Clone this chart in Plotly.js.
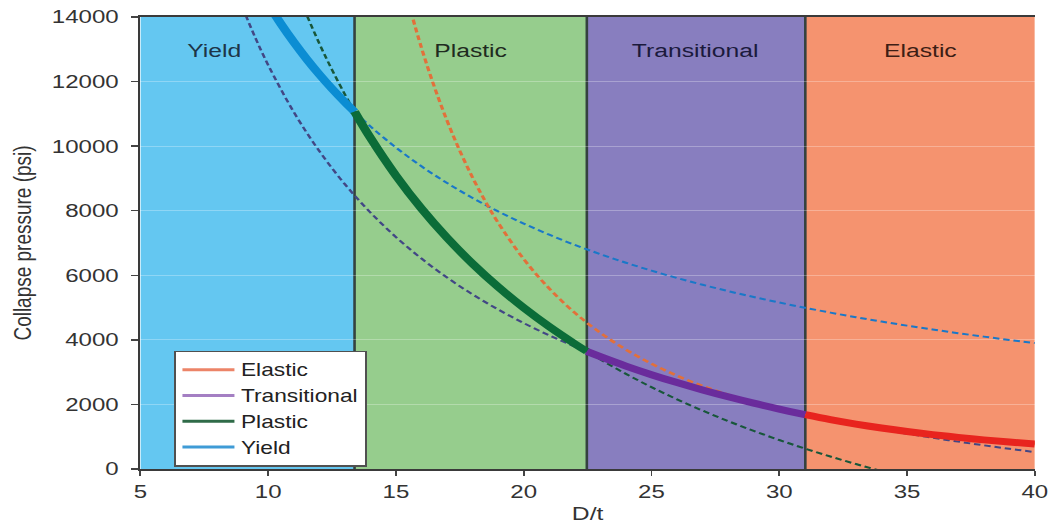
<!DOCTYPE html>
<html>
<head>
<meta charset="utf-8">
<script src="https://cdn.plot.ly/plotly-3.0.1.min.js"></script>
<style>
html,body{margin:0;padding:0;overflow:hidden;background:#fff;}
#chart{width:810px;height:524px;transform:scaleX(1.3);transform-origin:0 0;}
</style>
</head>
<body>
<div id="chart"></div>
<script>
// Region boundaries (D/t) and names
const regionEdges = [5, 13.38, 22.47, 31.02, 40];
const regionNames = ['Yield', 'Plastic', 'Transitional', 'Elastic'];

// Yield collapse curve
const yieldDt = [10, 10.5, 11, 11.5, 12, 12.5, 13, 13.38, 14, 15, 16, 17, 18, 19, 20, 21, 22, 23, 24, 25, 26, 27, 28, 29, 30, 31, 32, 33, 34, 35, 36, 37, 38, 39, 40];
const yieldP  = [14400, 13787, 13223, 12703, 12222, 11776, 11361, 11065, 10612, 9956, 9375, 8858, 8395, 7978, 7600, 7256, 6942, 6654, 6389, 6144, 5917, 5706, 5510, 5327, 5156, 4995, 4844, 4702, 4567, 4441, 4321, 4207, 4100, 3997, 3900];

// Plastic collapse curve
const plasticDt = [11.4, 12, 12.5, 13, 13.38, 14, 15, 16, 17, 18, 19, 20, 21, 22, 22.47, 23, 24, 25, 26, 27, 28, 29, 30, 31, 32, 33, 34];
const plasticP  = [14260, 13182, 12363, 11607, 11071, 10258, 9088, 8064, 7161, 6358, 5640, 4993, 4408, 3876, 3643, 3391, 2946, 2536, 2158, 1808, 1483, 1181, 898, 634, 387, 154, -65];

// Transitional collapse curve
const transDt = [9, 9.5, 10, 11, 12, 13, 14, 15, 16, 17, 18, 19, 20, 21, 22, 22.47, 23, 24, 25, 26, 27, 28, 29, 30, 31, 31.02, 32, 33, 34, 35, 36, 37, 38, 39, 40];
const transP  = [14288, 13353, 12512, 11059, 9848, 8823, 7945, 7184, 6518, 5930, 5408, 4941, 4520, 4139, 3793, 3641, 3478, 3188, 2922, 2676, 2448, 2237, 2040, 1856, 1684, 1681, 1523, 1372, 1229, 1095, 968, 848, 734, 626, 524];

// Elastic collapse curve
const elasticDt = [15.5, 16, 16.5, 17, 17.5, 18, 18.5, 19, 20, 21, 22, 23, 24, 25, 26, 27, 28, 29, 30, 31, 31.02, 32, 33, 34, 35, 36, 37, 38, 39, 40];
const elasticP  = [14407, 13042, 11844, 10788, 9855, 9025, 8287, 7627, 6503, 5589, 4839, 4218, 3698, 3260, 2889, 2572, 2300, 2065, 1861, 1683, 1681, 1527, 1389, 1268, 1160, 1065, 979, 902, 834, 772];

const regionFill = ['#64c7f1', '#96cd8d', '#887ebf', '#f5936f'];
const labelColor = ['#1d3548', '#1f2b1f', '#1b1a3c', '#3d1e15'];

const curves = [
  {name: 'Yield',        x: yieldDt,   y: yieldP,   solid: '#0b8dd3', dash: '#1a78c8', dashW: 2,   legend: '#3f9bd6'},
  {name: 'Plastic',      x: plasticDt, y: plasticP, solid: '#0b6c38', dash: '#18573a', dashW: 2,   legend: '#2f6b48'},
  {name: 'Transitional', x: transDt,   y: transP,   solid: '#6a2c9c', dash: '#424785', dashW: 2,   legend: '#a47fc3'},
  {name: 'Elastic',      x: elasticDt, y: elasticP, solid: '#e8241e', dash: '#e2703a', dashW: 2.5, legend: '#ec8468'}
];

const traces = [];
// dashed full curves
curves.forEach(c => {
  traces.push({x: c.x, y: c.y, type: 'scatter', mode: 'lines', showlegend: false, hoverinfo: 'skip',
    line: {color: c.dash, width: c.dashW, dash: '5px,3px', shape: 'spline', smoothing: 1}});
});
// solid segments within their own region
curves.forEach((c, i) => {
  const lo = regionEdges[i], hi = regionEdges[i + 1];
  const sx = [], sy = [];
  c.x.forEach((v, k) => { if (v >= lo && v <= hi) { sx.push(v); sy.push(c.y[k]); } });
  traces.push({x: sx, y: sy, type: 'scatter', mode: 'lines', showlegend: false, hoverinfo: 'skip',
    line: {color: c.solid, width: 7, shape: 'spline', smoothing: 1}});
});
// legend entries (Elastic first)
[3, 2, 1, 0].forEach(i => {
  traces.push({x: [null], y: [null], type: 'scatter', mode: 'lines', name: curves[i].name,
    line: {color: curves[i].legend, width: 3}});
});

const shapes = [];
for (let i = 0; i < regionNames.length; i++) {
  shapes.push({type: 'rect', xref: 'x', yref: 'y', x0: regionEdges[i], x1: regionEdges[i + 1], y0: 0, y1: 14000,
    fillcolor: regionFill[i], line: {width: 0}, layer: 'below'});
}
for (let i = 1; i < regionEdges.length - 1; i++) {
  shapes.push({type: 'line', xref: 'x', yref: 'y', x0: regionEdges[i], x1: regionEdges[i], y0: 0, y1: 14000,
    line: {color: '#34423f', width: 2}, layer: 'below'});
}

const annotations = regionNames.map((n, i) => ({
  x: i === 0 ? 7.9 : (regionEdges[i] + regionEdges[i + 1]) / 2,
  y: 12950, xref: 'x', yref: 'y', text: n, showarrow: false,
  xanchor: 'center', yanchor: 'middle',
  font: {family: 'Liberation Sans, Arial, sans-serif', size: 19, color: labelColor[i]}
}));

const font = 'Liberation Sans, Arial, sans-serif';
const layout = {
  width: 810, height: 524,
  margin: {l: 108, r: 14, t: 17, b: 55, pad: 0},
  paper_bgcolor: '#ffffff', plot_bgcolor: '#ffffff',
  font: {family: font, size: 18.5, color: '#333'},
  showlegend: true,
  legend: {x: 0.038, y: 0.262, xanchor: 'left', yanchor: 'top', bgcolor: '#ffffff',
    bordercolor: '#505050', borderwidth: 1.2, font: {family: font, size: 17.5, color: '#222'},
    itemwidth: 40, tracegroupgap: 0, traceorder: 'normal', entrywidth: 118, entrywidthmode: 'pixels'},
  xaxis: {range: [5, 40], dtick: 5, tick0: 5, showgrid: false, zeroline: false,
    showline: true, linecolor: '#3a3a3a', linewidth: 2, mirror: true,
    ticks: 'outside', ticklen: 5, tickcolor: '#444', tickwidth: 1.5,
    tickfont: {family: font, size: 18.5, color: '#333'},
    title: {text: 'D/t', standoff: 15, font: {family: font, size: 19, color: '#333'}}},
  yaxis: {range: [0, 14000], dtick: 2000, tickformat: 'd', showgrid: true, gridcolor: 'rgba(255,255,255,0.28)', gridwidth: 1,
    zeroline: false, showline: true, linecolor: '#3a3a3a', linewidth: 2,
    ticks: 'outside', ticklen: 5, tickcolor: '#444', tickwidth: 1.5, ticklabelstandoff: 6,
    tickfont: {family: font, size: 18.5, color: '#333'},
    title: {text: 'Collapse pressure (psi)', standoff: 10, font: {family: font, size: 19, color: '#333'}}},
  shapes: shapes,
  annotations: annotations
};

Plotly.newPlot('chart', traces, layout, {staticPlot: true, displayModeBar: false});
</script>
</body>
</html>
